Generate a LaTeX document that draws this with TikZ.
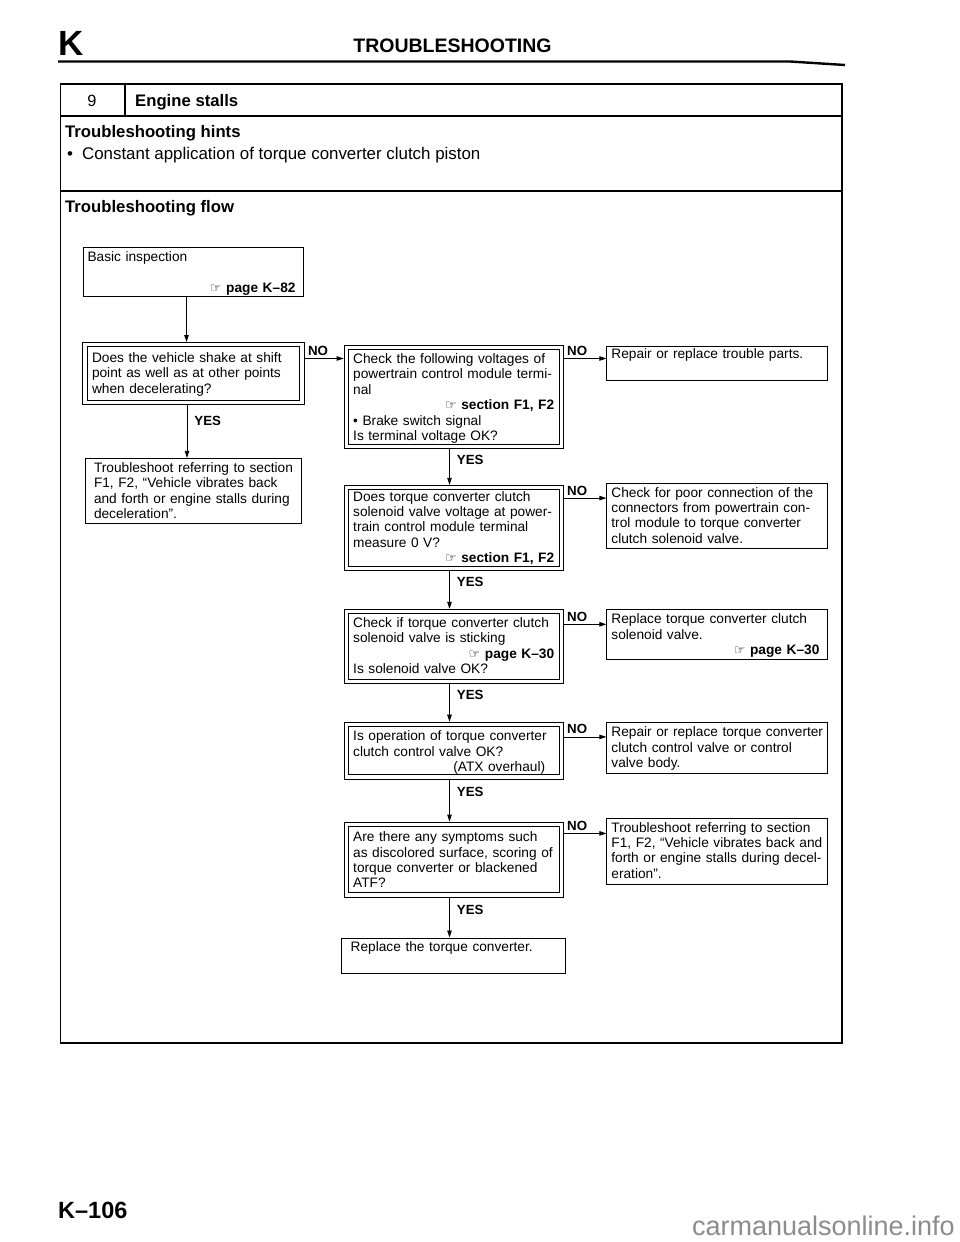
\documentclass[tikz,border=0pt]{standalone}
\usepackage{fontspec}
\setmainfont{Liberation Sans}
\newfontfamily\handfont{DejaVu Sans}
\usepackage{tikz}
\usetikzlibrary{arrows.meta,positioning}

\newcommand{\boxfont}{\fontsize{13.7}{15.4}\selectfont}
\newcommand{\headfont}{\fontsize{16.7}{19}\selectfont\bfseries}
\newcommand{\pushright}{\leavevmode\null\hskip 0pt plus 1filll}
\newcommand{\refto}[1]{\pushright{\handfont\fontsize{13}{13}\selectfont ☞}\ \textbf{#1}}

\begin{document}
\begin{tikzpicture}[
  x=1pt, y=-1pt,
  frame/.style={draw, line width=1.2pt},
  dec/.style={draw, line width=1pt, double, double distance=3.2pt, outer sep=2.6pt, inner xsep=7pt, inner ysep=5pt, text width=201pt, align=left, font=\boxfont},
  res/.style={draw, line width=1pt, inner xsep=4.5pt, inner ysep=3pt, text width=212pt, align=left, font=\boxfont},
  dims/.style 2 args={text height=#1pt, text depth=#2pt},
  arrow/.style={-{Triangle[length=7pt,width=4.5pt]}, line width=0.8pt},
  nolbl/.style={font=\fontsize{13.3}{15}\selectfont\bfseries, inner sep=0pt, anchor=base west, xshift=3pt, yshift=3pt},
  yeslbl/.style={font=\fontsize{13.3}{15}\selectfont\bfseries, inner sep=0pt, anchor=west, xshift=7pt}
]
\useasboundingbox (0,0) rectangle (960,1242);

% page header
\node[font=\fontsize{35}{40}\selectfont\bfseries, inner sep=0pt, anchor=base west] (sect) at (58,55) {K};
\node[font=\fontsize{19.5}{22}\selectfont\bfseries, inner sep=0pt, anchor=base] (title) at (452.5,52) {TROUBLESHOOTING};
\draw[line width=2.4pt] (58,61.5) -- (790,61.5) -- (845,65);

% frame with its rows
\draw[frame] (60.5,84) rectangle (842,1043);
\draw[frame] (60.5,116) -- (842,116);
\draw[frame] (60.5,191) -- (842,191);
\draw[frame] (125,84) -- (125,116);
\node[font=\fontsize{16.3}{19}\selectfont, inner sep=0pt, anchor=base] (num) at (92,106) {9};
\node[font=\headfont, inner sep=0pt, anchor=base west] (issue) at (135,106.5) {Engine stalls};
\node[font=\headfont, inner sep=0pt, anchor=base west] (hints) at (65,137) {Troubleshooting hints};
\node[font=\fontsize{16.9}{19}\selectfont, inner sep=0pt, anchor=base west] (hint1) at (67,159) {•\hspace{9pt}Constant application of torque converter clutch piston};
\node[font=\headfont, inner sep=0pt, anchor=base west] (flow) at (65,212.5) {Troubleshooting flow};

% left column
\node[res, inner xsep=4pt, dims={11}{32}, anchor=north west] (basic) at (83,247) {Basic inspection\\[15.5pt]\refto{page K–82}\kern4pt};
\node[dec, text width=203pt, dims={12.85}{34.85}, below=45pt of basic] (shake) {Does the vehicle shake at shift\\point as well as at other points\\when decelerating?};
\node[res, inner xsep=6pt, text width=204pt, dims={11}{48}, below=53pt of shake] (trouble1) {\hspace{2.5pt}Troubleshoot referring to section\\\hspace*{2.5pt}F1, F2, “Vehicle vibrates back\\\hspace*{2.5pt}and forth or engine stalls during\\\hspace*{2.5pt}deceleration”.};

% middle column
\node[dec, dims={10.85}{77.85}, right=39pt of shake.north east, anchor=north west, yshift=-3pt] (volt) {Check the following voltages of\\powertrain control module termi-\\nal\\\refto{section F1, F2}\\\textbullet\ Brake switch signal\\Is terminal voltage OK?};
\node[dec, dims={8.55}{62.15}, below=36pt of volt] (tcc) {Does torque converter clutch\\solenoid valve voltage at power-\\train control module terminal\\measure 0 V?\\\refto{section F1, F2}};
\node[dec, dims={10.85}{48.85}, below=38pt of tcc] (stick) {Check if torque converter clutch\\solenoid valve is sticking\\\refto{page K–30}\\Is solenoid valve OK?};
\node[dec, dims={11.55}{31.15}, below=38pt of stick] (ctrl) {Is operation of torque converter\\clutch control valve OK?\\\pushright(ATX overhaul)\kern9pt};
\node[dec, dims={12.55}{48.15}, below=42pt of ctrl] (atf) {Are there any symptoms such\\as discolored surface, scoring of\\torque converter or blackened\\ATF?};
\node[res, inner xsep=9pt, text width=206pt, dims={10.7}{18.3}, below=40pt of atf] (tcrep) {Replace the torque converter.};

% right column
\node[res, dims={9}{19}, right=42.6pt of volt.north east, anchor=north west, yshift=-1pt] (repair1) {Repair or replace trouble parts.};
\node[res, dims={10.7}{48.3}, right=42.6pt of tcc.north east, anchor=north west, yshift=2pt] (poor) {Check for poor connection of the\\connectors from powertrain con-\\trol module to torque converter\\clutch solenoid valve.};
\node[res, dims={11.3}{32.7}, right=42.6pt of stick.north east, anchor=north west] (tccsol) {Replace torque converter clutch\\solenoid valve.\\\refto{page K–30}\kern4pt};
\node[res, dims={11.7}{33.3}, right=42.6pt of ctrl.north east, anchor=north west] (repair2) {Repair or replace torque converter\\clutch control valve or control\\valve body.};
\node[res, dims={11}{49}, right=42.6pt of atf.north east, anchor=north west, yshift=4pt] (trouble2) {Troubleshoot referring to section\\F1, F2, “Vehicle vibrates back and\\forth or engine stalls during decel-\\eration”.};

% YES connectors
\coordinate (y1) at ([xshift=-7pt]basic.south);
\draw[arrow] (y1) -- (y1 |- shake.north);
\coordinate (y2) at ([xshift=-6.5pt]shake.south);
\draw[arrow] (y2) -- node[yeslbl, pos=0.3] {YES} (y2 |- trouble1.north);
\coordinate (y3) at ([xshift=-4.2pt]volt.south);
\draw[arrow] (y3) -- node[yeslbl, pos=0.3] {YES} (y3 |- tcc.north);
\coordinate (y4) at ([xshift=-4.2pt]tcc.south);
\draw[arrow] (y4) -- node[yeslbl, pos=0.3] {YES} (y4 |- stick.north);
\coordinate (y5) at ([xshift=-4.2pt]stick.south);
\draw[arrow] (y5) -- node[yeslbl, pos=0.3] {YES} (y5 |- ctrl.north);
\coordinate (y6) at ([xshift=-4.2pt]ctrl.south);
\draw[arrow] (y6) -- node[yeslbl, pos=0.3] {YES} (y6 |- atf.north);
\coordinate (y7) at ([xshift=-4.2pt]atf.south);
\draw[arrow] (y7) -- node[yeslbl, pos=0.3] {YES} (y7 |- tcrep.north);

% NO connectors
\coordinate (n1) at ([yshift=-16.5pt]shake.north east);
\draw[arrow] (n1) -- node[nolbl, pos=0] {NO} (n1 -| volt.west);
\coordinate (n2) at ([yshift=-13.5pt]volt.north east);
\draw[arrow] (n2) -- node[nolbl, pos=0] {NO} (n2 -| repair1.west);
\coordinate (n3) at ([yshift=-13.2pt]tcc.north east);
\draw[arrow] (n3) -- node[nolbl, pos=0] {NO} (n3 -| poor.west);
\coordinate (n4) at ([yshift=-15.5pt]stick.north east);
\draw[arrow] (n4) -- node[nolbl, pos=0] {NO} (n4 -| tccsol.west);
\coordinate (n5) at ([yshift=-15.2pt]ctrl.north east);
\draw[arrow] (n5) -- node[nolbl, pos=0] {NO} (n5 -| repair2.west);
\coordinate (n6) at ([yshift=-11.8pt]atf.north east);
\draw[arrow] (n6) -- node[nolbl, pos=0] {NO} (n6 -| trouble2.west);

% page footer
\node[font=\fontsize{23.5}{26}\selectfont\bfseries, inner sep=0pt, anchor=base west] (pageno) at (58,1218.5) {K–106};
\node[font=\fontsize{27}{30}\selectfont, text=black!45, inner sep=0pt, anchor=base east] (wmark) at (955,1235) {carmanualsonline.info};
\end{tikzpicture}
\end{document}
